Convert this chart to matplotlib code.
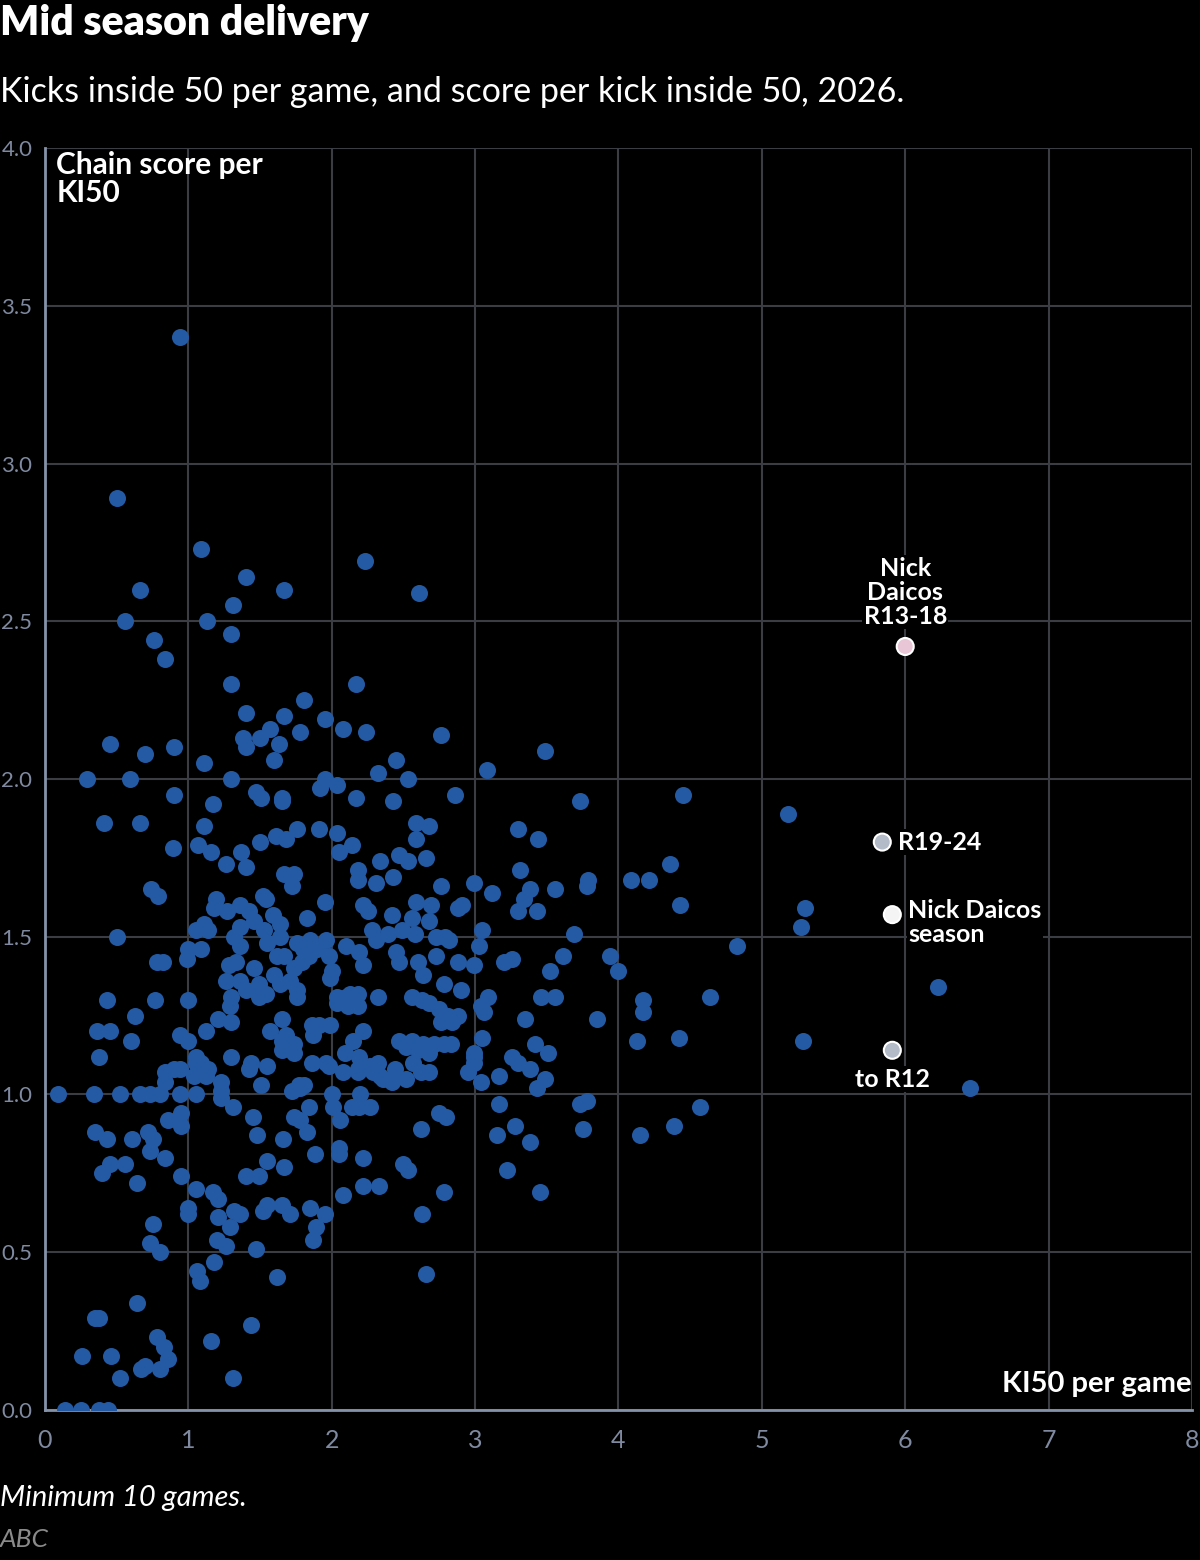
import matplotlib.pyplot as plt

# 每场内50踢球数 与 每次内50踢球的链条得分
ki50_per_game = [
    0.94, 0.50, 1.09, 2.23, 1.40, 0.66, 1.67, 2.61, 1.31, 0.56, 1.13, 0.76, 1.30, 0.84,
    1.30, 2.17, 1.81, 1.40, 1.67, 1.57, 1.95, 2.08, 2.24, 1.78, 2.76, 1.38, 1.50, 1.63,
    1.40, 0.45, 0.90, 0.70, 3.49, 1.60, 1.11, 2.45, 3.08, 0.29, 0.59, 1.30, 2.53, 1.95,
    2.04, 2.32, 1.92, 0.90, 2.86, 1.47, 1.51, 1.65, 1.65, 2.17, 1.17, 2.43, 3.73, 4.45,
    5.18, 0.41, 0.66, 1.11, 2.59, 2.68, 1.76, 1.91, 3.30, 2.04, 1.61, 1.50, 1.68, 2.59,
    3.44, 1.07, 2.14, 0.89, 1.37, 2.05, 1.16, 2.47, 2.34, 2.53, 2.66, 1.26, 4.36, 1.40,
    2.18, 3.31, 1.67, 1.74, 2.43, 2.18, 0.74, 0.79, 2.31, 3.79, 4.09, 4.21, 1.72, 2.76,
    2.99, 3.78, 3.56, 3.38, 3.12, 1.19, 1.52, 1.54, 3.34, 2.59, 1.95, 2.91, 4.43, 2.69,
    2.88, 2.22, 5.30, 1.18, 1.36, 1.42, 1.59, 1.27, 2.25, 2.42, 2.56, 3.30, 3.43, 1.46,
    1.83, 1.11, 1.64, 1.53, 2.68, 1.05, 1.14, 1.36, 2.28, 3.05, 3.69, 5.27, 2.39, 2.49,
    2.58, 2.73, 2.79, 0.50, 1.32, 1.64, 1.85, 1.96, 2.10, 2.31, 3.03, 4.83, 2.82, 1.55,
    1.76, 1.36, 1.00, 1.09, 1.80, 1.90, 1.62, 1.67, 1.98, 2.19, 2.45, 2.73, 3.94, 3.61,
    0.99, 1.84, 1.28, 1.46, 1.79, 2.22, 2.47, 2.60, 2.88, 2.99, 3.20, 3.26, 0.82, 0.78,
    1.33, 1.74, 2.00, 2.64, 3.52, 4.00, 1.60, 1.26, 1.36, 1.49, 1.71, 1.99, 2.78, 6.23,
    2.90, 1.40, 1.64, 1.76, 2.13, 2.18, 1.30, 1.54, 2.32, 2.04, 2.10, 3.09, 3.46, 3.56,
    4.64, 0.43, 1.00, 0.77, 2.56, 2.63, 1.49, 1.76, 4.17, 2.04, 2.18, 2.68, 3.04, 2.11,
    2.75, 1.29, 4.17, 3.06, 0.63, 1.21, 1.65, 2.81, 2.88, 3.35, 3.85, 1.30, 1.86, 2.76,
    2.84, 1.91, 1.99, 0.36, 0.45, 1.57, 2.22, 1.12, 0.94, 1.68, 1.87, 3.05, 2.47, 2.56,
    2.64, 4.42, 0.60, 2.15, 1.74, 3.42, 4.13, 5.29, 1.00, 1.65, 2.52, 2.71, 2.78, 2.83,
    1.65, 1.74, 2.60, 2.68, 2.09, 2.99, 3.26, 3.51, 0.38, 1.05, 2.99, 1.30, 1.96, 2.19,
    2.32, 2.57, 1.05, 1.09, 1.44, 1.55, 1.86, 3.30, 2.99, 2.18, 2.27, 2.44, 1.42, 0.90,
    0.84, 0.94, 1.14, 3.38, 1.98, 2.18, 2.29, 2.08, 2.34, 2.68, 2.62, 2.95, 3.17, 1.04,
    1.12, 2.52, 2.36, 2.42, 3.04, 3.49, 0.84, 1.51, 1.77, 1.81, 1.23, 3.43, 6.45, 0.09,
    0.34, 0.52, 0.66, 0.73, 0.80, 0.94, 1.05, 1.23, 1.72, 1.78, 2.00, 2.20, 1.23, 2.01,
    1.31, 2.14, 2.19, 2.27, 3.17, 3.73, 3.78, 4.57, 0.95, 1.45, 1.74, 1.84, 2.75, 2.80,
    0.86, 0.95, 2.06, 1.78, 3.28, 4.39, 2.62, 3.75, 1.83, 0.35, 0.72, 1.48, 0.75, 3.15,
    4.15, 0.43, 0.61, 1.66, 3.38, 2.05, 0.73, 2.05, 1.88, 0.84, 2.22, 1.55, 0.45, 0.56,
    2.50, 0.40, 2.53, 3.22, 1.67, 1.40, 1.49, 0.95, 0.64, 2.22, 2.33, 2.78, 3.45, 1.05,
    1.17, 2.08, 1.21, 1.55, 1.85, 1.65, 1.71, 1.52, 2.63, 1.32, 1.36, 1.00, 1.00, 1.21,
    1.95, 1.29, 0.75, 1.89, 1.20, 1.26, 0.73, 0.80, 1.87, 1.47, 1.18, 1.06, 1.08, 1.62,
    2.66, 0.64, 1.44, 0.35, 0.38, 1.16, 0.78, 0.83, 0.26, 0.46, 0.86, 0.70, 0.67, 0.80,
    0.52, 1.31, 0.14, 0.25, 0.38, 0.44,
]
chain_score = [
    3.40, 2.89, 2.73, 2.69, 2.64, 2.60, 2.60, 2.59, 2.55, 2.50, 2.50, 2.44, 2.46, 2.38,
    2.30, 2.30, 2.25, 2.21, 2.20, 2.16, 2.19, 2.16, 2.15, 2.15, 2.14, 2.13, 2.13, 2.11,
    2.10, 2.11, 2.10, 2.08, 2.09, 2.06, 2.05, 2.06, 2.03, 2.00, 2.00, 2.00, 2.00, 2.00,
    1.98, 2.02, 1.97, 1.95, 1.95, 1.96, 1.94, 1.94, 1.93, 1.94, 1.92, 1.93, 1.93, 1.95,
    1.89, 1.86, 1.86, 1.85, 1.86, 1.85, 1.84, 1.84, 1.84, 1.83, 1.82, 1.80, 1.81, 1.81,
    1.81, 1.79, 1.79, 1.78, 1.77, 1.77, 1.77, 1.76, 1.74, 1.74, 1.75, 1.73, 1.73, 1.72,
    1.71, 1.71, 1.70, 1.70, 1.69, 1.68, 1.65, 1.63, 1.67, 1.68, 1.68, 1.68, 1.66, 1.66,
    1.67, 1.66, 1.65, 1.65, 1.64, 1.62, 1.63, 1.62, 1.62, 1.61, 1.61, 1.60, 1.60, 1.60,
    1.59, 1.60, 1.59, 1.59, 1.60, 1.58, 1.57, 1.58, 1.58, 1.57, 1.56, 1.58, 1.58, 1.55,
    1.56, 1.54, 1.54, 1.52, 1.55, 1.52, 1.52, 1.53, 1.52, 1.52, 1.51, 1.53, 1.51, 1.52,
    1.51, 1.50, 1.50, 1.50, 1.50, 1.50, 1.49, 1.49, 1.47, 1.49, 1.47, 1.47, 1.49, 1.48,
    1.48, 1.47, 1.46, 1.46, 1.46, 1.46, 1.44, 1.44, 1.44, 1.45, 1.45, 1.44, 1.44, 1.44,
    1.43, 1.44, 1.41, 1.40, 1.42, 1.41, 1.42, 1.42, 1.42, 1.41, 1.42, 1.43, 1.42, 1.42,
    1.42, 1.40, 1.39, 1.38, 1.39, 1.39, 1.38, 1.36, 1.36, 1.35, 1.36, 1.37, 1.35, 1.34,
    1.33, 1.33, 1.35, 1.33, 1.32, 1.32, 1.31, 1.32, 1.31, 1.31, 1.31, 1.31, 1.31, 1.31,
    1.31, 1.30, 1.30, 1.30, 1.31, 1.30, 1.31, 1.31, 1.30, 1.29, 1.28, 1.29, 1.28, 1.28,
    1.27, 1.28, 1.26, 1.26, 1.25, 1.24, 1.24, 1.25, 1.25, 1.24, 1.24, 1.23, 1.22, 1.23,
    1.23, 1.22, 1.22, 1.20, 1.20, 1.20, 1.20, 1.20, 1.19, 1.19, 1.19, 1.18, 1.17, 1.17,
    1.16, 1.18, 1.17, 1.17, 1.16, 1.16, 1.17, 1.17, 1.17, 1.17, 1.15, 1.16, 1.16, 1.16,
    1.14, 1.13, 1.14, 1.13, 1.13, 1.13, 1.12, 1.13, 1.12, 1.12, 1.12, 1.12, 1.10, 1.12,
    1.10, 1.10, 1.10, 1.10, 1.10, 1.09, 1.10, 1.10, 1.10, 1.08, 1.09, 1.08, 1.08, 1.08,
    1.07, 1.08, 1.08, 1.08, 1.09, 1.07, 1.07, 1.07, 1.06, 1.07, 1.07, 1.07, 1.06, 1.06,
    1.06, 1.05, 1.05, 1.04, 1.04, 1.05, 1.04, 1.03, 1.03, 1.03, 1.04, 1.02, 1.02, 1.00,
    1.00, 1.00, 1.00, 1.00, 1.00, 1.00, 1.00, 1.01, 1.01, 1.02, 1.00, 1.00, 0.99, 0.96,
    0.96, 0.96, 0.96, 0.96, 0.97, 0.97, 0.98, 0.96, 0.94, 0.93, 0.93, 0.96, 0.94, 0.93,
    0.92, 0.90, 0.92, 0.92, 0.90, 0.90, 0.89, 0.89, 0.88, 0.88, 0.88, 0.87, 0.86, 0.87,
    0.87, 0.86, 0.86, 0.86, 0.85, 0.83, 0.82, 0.81, 0.81, 0.80, 0.80, 0.79, 0.78, 0.78,
    0.78, 0.75, 0.76, 0.76, 0.77, 0.74, 0.74, 0.74, 0.72, 0.71, 0.71, 0.69, 0.69, 0.70,
    0.69, 0.68, 0.67, 0.65, 0.64, 0.65, 0.62, 0.63, 0.62, 0.63, 0.62, 0.64, 0.62, 0.61,
    0.62, 0.58, 0.59, 0.58, 0.54, 0.52, 0.53, 0.50, 0.54, 0.51, 0.47, 0.44, 0.41, 0.42,
    0.43, 0.34, 0.27, 0.29, 0.29, 0.22, 0.23, 0.20, 0.17, 0.17, 0.16, 0.14, 0.13, 0.13,
    0.10, 0.10, 0.00, 0.00, 0.00, 0.00,
]

# 高亮的 Nick Daicos 数据点
hl_x = [5.91, 5.91, 5.84, 6.00]
hl_y = [1.14, 1.57, 1.80, 2.42]
hl_colors = ['#b3bac8', '#f4f4f4', '#b3bac8', '#e8c6d5']
hl_labels = ['to R12', 'Nick Daicos\nseason', 'R19-24', 'Nick\nDaicos\nR13-18']

plt.rcParams['font.family'] = ['Lato', 'DejaVu Sans']

fig = plt.figure(figsize=(12, 15.6), dpi=100, facecolor='black')
ax = fig.add_axes([0.0375, 0.0962, 0.9558, 0.8089], facecolor='black')

ax.scatter(ki50_per_game, chain_score, s=150, color='#245aa4', linewidths=0, zorder=3)
ax.scatter(hl_x, hl_y, s=150, c=hl_colors, edgecolors='white', linewidths=1.5, zorder=4)

ax.set_xlim(0, 8)
ax.set_ylim(0, 4)
ax.set_xticks(range(0, 9))
ax.set_yticks([0, 0.5, 1, 1.5, 2, 2.5, 3, 3.5, 4])
ax.set_yticklabels([f'{v:.1f}' for v in ax.get_yticks()])
ax.grid(True, color='#3a3d44', linewidth=1.5, zorder=0)
ax.set_axisbelow(True)
for side in ['top', 'right']:
    ax.spines[side].set_visible(False)
for side in ['left', 'bottom']:
    ax.spines[side].set_color('#8593aa')
    ax.spines[side].set_linewidth(2)
    ax.spines[side].set_zorder(2)
ax.tick_params(length=0, colors='#7f8aa0')
ax.tick_params(axis='y', pad=9, labelsize=16)
ax.tick_params(axis='x', pad=14, labelsize=18)

box = dict(facecolor='black', edgecolor='none', pad=1)
lab_kw = dict(color='white', fontsize=18, fontweight='bold', zorder=5, bbox=box, linespacing=1.05)
ax.text(hl_x[0], hl_y[0] - 0.055, hl_labels[0], ha='center', va='top', **lab_kw)
ax.text(hl_x[1] + 0.11, hl_y[1] + 0.05, hl_labels[1], ha='left', va='top', **lab_kw)
ax.text(hl_x[2] + 0.11, hl_y[2], hl_labels[2], ha='left', va='center', **lab_kw)
ax.text(hl_x[3], hl_y[3] + 0.06, hl_labels[3], ha='center', va='bottom', **lab_kw)

ax.text(0.08, 3.99, 'Chain score per\nKI50', color='white', fontsize=21.5, fontweight='bold',
        ha='left', va='top', linespacing=1.0, zorder=5)
ax.text(8, 0.04, 'KI50 per game', color='white', fontsize=21, fontweight='bold',
        ha='right', va='bottom', zorder=5)

fig.text(0.0, 0.985, 'Mid season delivery', color='white', fontsize=29.5, fontweight='heavy',
         ha='left', va='center')
fig.text(0.0, 0.941, 'Kicks inside 50 per game, and score per kick inside 50, 2026.',
         color='white', fontsize=24.5, ha='left', va='center')
fig.text(0.0, 0.040, 'Minimum 10 games.', color='white', fontsize=21, style='italic',
         ha='left', va='center')
fig.text(0.0, 0.013, 'ABC', color='#8a8a8a', fontsize=19, style='italic', ha='left', va='center')

fig.savefig('out.png', dpi=100, facecolor='black')
